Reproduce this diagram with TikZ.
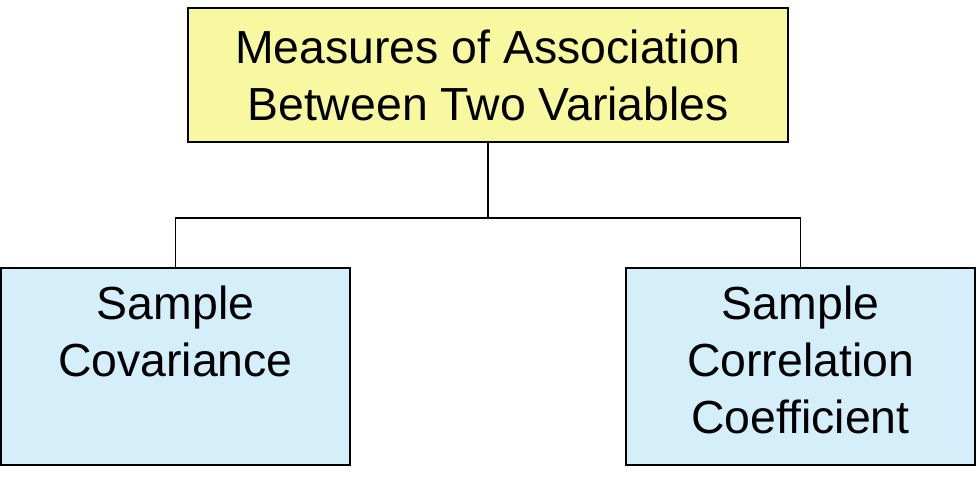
\documentclass[tikz,border=0pt]{standalone}
\usepackage{fontspec}
\setmainfont{Liberation Sans}
\definecolor{topfill}{RGB}{248,248,160}
\definecolor{leaffill}{RGB}{212,238,250}
\tikzset{
    box/.style={draw=black, line width=0.8pt, inner sep=0pt},
    lbl/.style={align=center, inner sep=0pt, font=\fontsize{33}{40.5}\selectfont},
}
\begin{document}
\begin{tikzpicture}
    \useasboundingbox (0,0) rectangle (24.425,12.2);
    % boxes
    \node[box, fill=topfill, minimum width=15cm, minimum height=3.35cm] (top) at (12.2,10.325) {};
    \node[box, fill=leaffill, minimum width=8.725cm, minimum height=4.925cm] (cov) at (4.3875,3.0375) {};
    \node[box, fill=leaffill, minimum width=8.725cm, minimum height=4.925cm] (cor) at (20.0125,3.0375) {};

    % labels
    \node[lbl] (toptext) at (top.center) {Measures of Association\\Between Two Variables};
    \node[lbl, anchor=north] (covtext) at ([yshift=-0.45cm]cov.north) {Sample\\Covariance};
    \node[lbl, anchor=north] (cortext) at ([yshift=-0.45cm]cor.north) {Sample\\Correlation\\Coefficient};

    % connectors
    \coordinate (bar) at (12.2,6.75);
    \draw[line width=0.8pt] (top.south) -- (bar);
    \draw[line width=0.8pt] (cov.north) |- (bar) -| (cor.north);
\end{tikzpicture}
\end{document}
